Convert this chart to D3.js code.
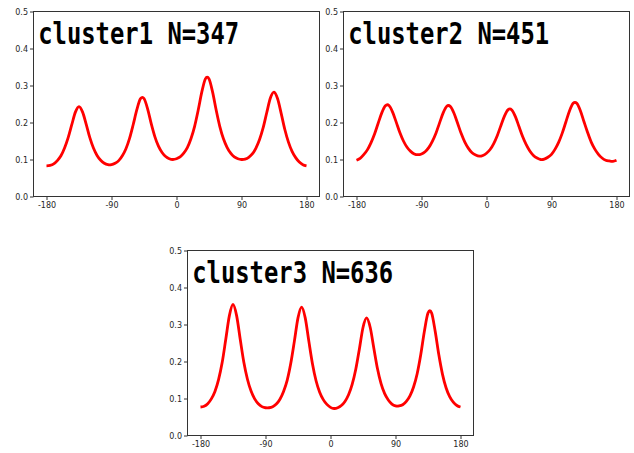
<!DOCTYPE html>
<html>
<head>
<meta charset="utf-8">
<script src="https://cdn.jsdelivr.net/npm/d3@7"></script>
<style>
  html, body { margin: 0; padding: 0; background: #fff; }
</style>
</head>
<body>
<div id="chart"></div>
<script>
// Angles (degrees) where each density curve is sampled
const angles = [
  -180, -175, -170, -165, -160, -155, -150, -145, -140, -135, -130, -125, -120,
  -115, -110, -105, -100, -95, -90, -85, -80, -75, -70, -65, -60, -55, -50, -45,
  -40, -35, -30, -25, -20, -15, -10, -5, 0, 5, 10, 15, 20, 25, 30, 35, 40, 45,
  50, 55, 60, 65, 70, 75, 80, 85, 90, 95, 100, 105, 110, 115, 120, 125, 130,
  135, 140, 145, 150, 155, 160, 165, 170, 175, 180
]

// Density values, one array per cluster
const cluster1Values = [
  0.083, 0.084, 0.088, 0.097, 0.110, 0.131, 0.159, 0.194, 0.228, 0.243, 0.228, 0.195, 0.159,
  0.131, 0.111, 0.098, 0.090, 0.086, 0.086, 0.090, 0.097, 0.110, 0.129, 0.157, 0.194, 0.234, 0.264, 0.265,
  0.237, 0.197, 0.162, 0.136, 0.119, 0.108, 0.102, 0.100, 0.102, 0.107, 0.117, 0.132, 0.156, 0.189, 0.233, 0.282, 0.318, 0.318,
  0.282, 0.233, 0.189, 0.156, 0.133, 0.117, 0.107, 0.102, 0.100, 0.101, 0.106, 0.115, 0.131, 0.154, 0.186, 0.227, 0.266,
  0.282, 0.264, 0.224, 0.181, 0.147, 0.122, 0.105, 0.093, 0.086, 0.083
]
const cluster2Values = [
  0.098, 0.103, 0.113, 0.126, 0.145, 0.169, 0.198, 0.226, 0.245, 0.246, 0.228, 0.201, 0.173,
  0.150, 0.133, 0.122, 0.115, 0.113, 0.115, 0.121, 0.132, 0.149, 0.171, 0.199, 0.226, 0.244, 0.243, 0.225,
  0.198, 0.170, 0.147, 0.130, 0.118, 0.112, 0.109, 0.111, 0.117, 0.127, 0.143, 0.165, 0.192, 0.218, 0.235, 0.234, 0.216, 0.189,
  0.162, 0.140, 0.123, 0.111, 0.104, 0.100, 0.101, 0.106, 0.114, 0.128, 0.147, 0.172, 0.202, 0.232, 0.252, 0.252, 0.232,
  0.202, 0.173, 0.147, 0.128, 0.114, 0.104, 0.098, 0.096, 0.095, 0.098
]
const cluster3Values = [
  0.077, 0.079, 0.086, 0.099, 0.119, 0.151, 0.197, 0.260, 0.324, 0.354, 0.324, 0.260, 0.198,
  0.152, 0.120, 0.099, 0.086, 0.078, 0.075, 0.075, 0.078, 0.085, 0.098, 0.119, 0.149, 0.195, 0.255, 0.318,
  0.347, 0.318, 0.255, 0.194, 0.148, 0.117, 0.097, 0.084, 0.076, 0.073, 0.075, 0.081, 0.092, 0.110, 0.138, 0.179, 0.234, 0.292,
  0.318, 0.292, 0.236, 0.181, 0.140, 0.113, 0.096, 0.085, 0.080, 0.080, 0.083, 0.092, 0.107, 0.131, 0.167, 0.219, 0.282,
  0.331, 0.331, 0.281, 0.218, 0.166, 0.129, 0.105, 0.090, 0.081, 0.077
]

// Panel titles and axis ticks
const titles = ["cluster1 N=347", "cluster2 N=451", "cluster3 N=636"]
const xTicks = [-180, -90, 0, 90, 180]
const yTicks = [0, 0.1, 0.2, 0.3, 0.4, 0.5]

function drawPanel(svg, values, title, left, top) {
  // Size of the plotting area
  const width = 286
  const height = 185

  // Scales (matplotlib adds a 5% margin on x)
  const x = d3.scaleLinear().domain([-198, 198]).range([left, left + width])
  const y = d3.scaleLinear().domain([0, 0.5]).range([top + height, top])

  // x axis
  svg
    .append("g")
    .attr("transform", "translate(0," + (top + height) + ")")
    .call(
      d3.axisBottom(x)
        .tickValues(xTicks)
        .tickSize(3.5)
        .tickSizeOuter(0)
        .tickPadding(2)
        .tickFormat((d) => String(d))
    )
    .call((g) => g.select(".domain").remove())
    .call((g) => g.selectAll("line").attr("stroke", "#333"))
    .call((g) =>
      g.selectAll("text")
        .attr("font-family", "DejaVu Sans")
        .attr("font-size", 8)
        .attr("fill", "#262626")
    )

  // y axis
  svg
    .append("g")
    .attr("transform", "translate(" + left + ",0)")
    .call(
      d3.axisLeft(y)
        .tickValues(yTicks)
        .tickSize(3.5)
        .tickSizeOuter(0)
        .tickPadding(2)
        .tickFormat(d3.format(".1f"))
    )
    .call((g) => g.select(".domain").remove())
    .call((g) => g.selectAll("line").attr("stroke", "#333"))
    .call((g) =>
      g.selectAll("text")
        .attr("font-family", "DejaVu Sans")
        .attr("font-size", 8)
        .attr("fill", "#262626")
    )

  // Frame of the axes
  svg
    .append("rect")
    .attr("x", left)
    .attr("y", top)
    .attr("width", width)
    .attr("height", height)
    .attr("fill", "none")
    .attr("stroke", "#333")
    .attr("stroke-width", 1)

  // Density curve
  const line = d3
    .line()
    .x((d, i) => x(angles[i]))
    .y((d) => y(d))
    .curve(d3.curveCardinal)

  svg
    .append("path")
    .datum(values)
    .attr("d", line)
    .attr("fill", "none")
    .attr("stroke", "#ff0000")
    .attr("stroke-width", 2.8)
    .attr("stroke-linejoin", "round")

  // Big title inside the axes
  svg
    .append("text")
    .attr("x", left + 4.7)
    .attr("y", top + 32.5)
    .attr("font-family", "DejaVu Sans Mono")
    .attr("font-weight", "bold")
    .attr("font-size", 29.6)
    .attr("textLength", 201)
    .attr("lengthAdjust", "spacingAndGlyphs")
    .attr("fill", "#000")
    .text(title)
}

function drawGraphic() {
  const svg = d3
    .select("#chart")
    .append("svg")
    .attr("width", 634)
    .attr("height", 453)
    .style("display", "block")

  svg.append("rect").attr("width", 634).attr("height", 453).attr("fill", "#fff")

  drawPanel(svg, cluster1Values, titles[0], 33.5, 11.5)
  drawPanel(svg, cluster2Values, titles[1], 343.5, 11.5)
  drawPanel(svg, cluster3Values, titles[2], 187.5, 250.5)
}

drawGraphic()
</script>
</body>
</html>
